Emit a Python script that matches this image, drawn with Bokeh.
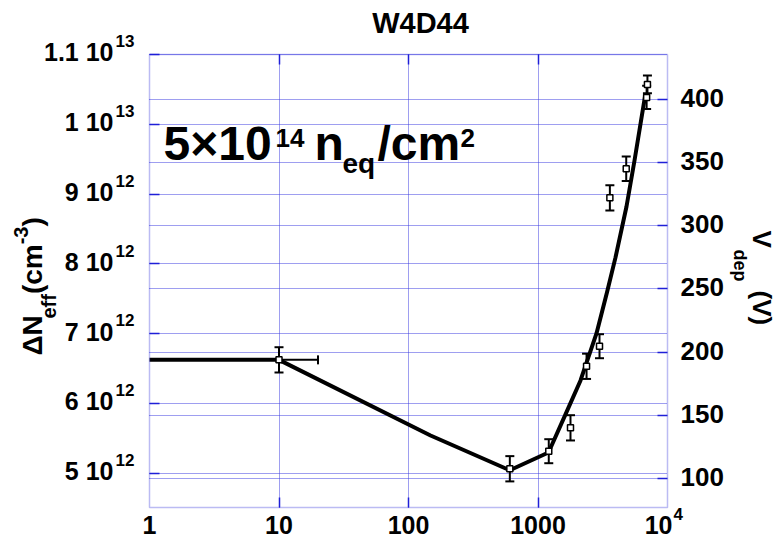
import math
from bokeh.plotting import figure
from bokeh.models import (Range1d, LinearAxis, LogAxis, Grid, FixedTicker, Label,
                          Whisker, TeeHead, ColumnDataSource, BoxAnnotation)
from bokeh.embed import file_html
from bokeh.resources import INLINE

# ---------------- data ----------------
anneal_t = [10, 606, 1211, 1782, 2371, 2985, 3589, 4800, 6900, 7000]          # annealing time
vdep = [193.9, 107.7, 121.6, 140.1, 188.8, 204.7, 322.2, 345.2, 401.6, 411.9]   # V_dep (V)
vdep_err = [10.0, 10.0, 9.5, 10.0, 10.0, 9.5, 10.0, 9.7, 9.2, 7.0]
t_err_upper = [20]          # horizontal error of first point (upper end)

fit_t = [1, 10, 148, 605, 1205, 1660, 2130, 2829, 3423, 3968, 4825, 5563, 6763]
fit_v = [193.9, 193.9, 134.0, 106.5, 120.6, 152.5, 177.6, 214.8, 248.0, 275.0, 315.3, 351.7, 404.8]

t_ticks = [1, 10, 100, 1000, 10000]
t_inner = [10, 100, 1000]
t_base = ["1", "10", "100", "1000", "10"]
t_exp = ["", "", "", "", "4"]

v_ticks = [100, 150, 200, 250, 300, 350, 400]
v_labels = ["100", "150", "200", "250", "300", "350", "400"]

neff_ticks = [5e12, 6e12, 7e12, 8e12, 9e12, 1e13, 1.1e13]
neff_base = ["5 10", "6 10", "7 10", "8 10", "9 10", "1 10", "1.1 10"]
neff_exp = ["12", "12", "12", "12", "12", "13", "13"]

# ---------------- layout constants ----------------
W, H = 777, 539
VMIN, VMAX = 77.04, 435.6          # V range of the plot box
NMIN, NMAX = 4.513e12, 1.1e13      # Neff range of the plot box
TMIN, TMAX = 1, 1e4
FL, FR, FT, FB = 149, 667, 54, 507   # plot box edges in pixels
BLUE = "#1f1fd8"
GRID = "#3c3ce0"
FONT = "Liberation Sans"
DEC = (FR - FL) / 4.0


def X(px):
    return 10 ** ((px - FL) / DEC)


def Y(py):
    return VMIN + (FB - py) * (VMAX - VMIN) / (FB - FT)


def NY(py):
    return NMIN + (FB - py) * (NMAX - NMIN) / (FB - FT)


def v_py(v):
    return FB - (v - VMIN) * (FB - FT) / (VMAX - VMIN)


def n_py(n):
    return FB - (n - NMIN) * (FB - FT) / (NMAX - NMIN)


def x_px(x):
    return FL + math.log10(x) * DEC


p = figure(width=W, height=H, x_axis_type="log",
           x_range=Range1d(X(0), X(W)), y_range=Range1d(Y(H), Y(0)),
           x_axis_location=None, y_axis_location=None, min_border=0,
           output_backend="svg", toolbar_location=None, tools="")
p.extra_y_ranges = {"neff": Range1d(NY(H), NY(0))}
p.xgrid.grid_line_color = None
p.ygrid.grid_line_color = None
p.outline_line_color = None
p.background_fill_color = "white"
p.border_fill_color = "white"

# ---------------- dotted grid, limited to the plot box ----------------
gstyle = dict(line_color=GRID, line_dash="1 1", line_width=1)
if "cross_bounds" in Grid.properties():
    for g in [Grid(dimension=0, ticker=FixedTicker(ticks=t_inner), cross_bounds=(VMIN, VMAX)),
              Grid(dimension=1, ticker=FixedTicker(ticks=v_ticks), cross_bounds=(TMIN, TMAX)),
              Grid(dimension=1, ticker=FixedTicker(ticks=neff_ticks), cross_bounds=(TMIN, TMAX),
                   y_range_name="neff")]:
        g.grid_line_color = GRID
        g.grid_line_dash = "1 1"
        g.grid_line_width = 1
        p.add_layout(g, "center")
else:
    p.segment(x0=t_inner, y0=[VMIN] * 3, x1=t_inner, y1=[VMAX] * 3, **gstyle)
    p.segment(x0=[TMIN] * 7, y0=v_ticks, x1=[TMAX] * 7, y1=v_ticks, **gstyle)
    p.segment(x0=[TMIN] * 7, y0=neff_ticks, x1=[TMAX] * 7, y1=neff_ticks,
              y_range_name="neff", **gstyle)

# plot box
p.add_layout(BoxAnnotation(left=TMIN, right=TMAX, bottom=VMIN, top=VMAX,
                           fill_alpha=0, line_color=BLUE, line_width=1.5))


# ---------------- axes (ticks pointing inward, drawn on the box) ----------------
def style_axis(ax, ticks):
    ax.major_tick_in = 10
    ax.major_tick_out = 0
    ax.minor_tick_in = 0
    ax.minor_tick_out = 0
    ax.axis_line_color = None
    ax.major_tick_line_color = BLUE
    ax.major_tick_line_width = 1.5
    ax.major_label_overrides = {t: "" for t in ticks}
    ax.major_label_text_color = None
    ax.major_label_standoff = 0
    return ax


p.add_layout(style_axis(LinearAxis(y_range_name="neff", ticker=FixedTicker(ticks=neff_ticks),
                                   fixed_location=TMIN, bounds=(NMIN, NMAX)), neff_ticks), "left")
p.add_layout(style_axis(LinearAxis(ticker=FixedTicker(ticks=v_ticks), fixed_location=TMAX,
                                   bounds=(VMIN, VMAX)), v_ticks), "right")
p.add_layout(style_axis(LogAxis(ticker=FixedTicker(ticks=t_inner), fixed_location=VMIN,
                                bounds=(TMIN, TMAX)), t_inner), "below")
p.add_layout(style_axis(LogAxis(ticker=FixedTicker(ticks=t_inner), fixed_location=VMAX,
                                bounds=(TMIN, TMAX)), t_inner), "above")

# ---------------- data marks ----------------
src = ColumnDataSource(dict(
    t=anneal_t, v=vdep,
    lo=[v - e for v, e in zip(vdep, vdep_err)],
    hi=[v + e for v, e in zip(vdep, vdep_err)]))
p.add_layout(Whisker(base="t", lower="lo", upper="hi", source=src, dimension="height",
                     line_color="black", line_width=2,
                     upper_head=TeeHead(size=9, line_color="black", line_width=2),
                     lower_head=TeeHead(size=9, line_color="black", line_width=2)))
hsrc = ColumnDataSource(dict(v=vdep[:1], t=anneal_t[:1], hi=t_err_upper))
p.add_layout(Whisker(base="v", lower="t", upper="hi", source=hsrc, dimension="width",
                     line_color="black", line_width=2, lower_head=None,
                     upper_head=TeeHead(size=9, line_color="black", line_width=2)))

p.line(fit_t, fit_v, line_color="black", line_width=4, line_join="round")
p.scatter("t", "v", source=src, marker="square", size=6, fill_color="white",
          line_color="black", line_width=1.5)


# ---------------- texts ----------------
# Labels anchor on the middle of the text box; shift so (px, py) is the baseline.
BASE_SHIFT = 0.3465


def txt(s, px, py, size, align="left", angle=0.0):
    d = BASE_SHIFT * size
    if angle == 0:
        ax_, ay_ = px, py - d
    elif angle > 0:
        ax_, ay_ = px - d, py
    else:
        ax_, ay_ = px + d, py
    p.add_layout(Label(x=X(ax_), y=Y(ay_), text=s, text_font=FONT, text_font_size=f"{size}px",
                       text_font_style="bold", text_align=align, text_baseline="alphabetic",
                       angle=angle, text_color="black"))


# title
txt("W4D44", 420, 33, 29, "center")

# left tick labels
for n, b, e in zip(neff_ticks, neff_base, neff_exp):
    txt(b, 113, n_py(n) + 6.5, 25, "right")
    txt(e, 115, n_py(n) - 7.5, 17, "left")

# right tick labels
for v, s in zip(v_ticks, v_labels):
    txt(s, 680, v_py(v) + 7.5, 26, "left")

# bottom tick labels
for t, b, e in zip(t_ticks, t_base, t_exp):
    if e:
        txt(b, x_px(t) + 5, 533, 25, "right")
        txt(e, x_px(t) + 6, 519, 17, "left")
    else:
        txt(b, x_px(t), 533, 25, "center")

# big fluence annotation
txt("5\u00d710", 163, 160, 48)
txt("14", 275, 147, 26)
txt("n", 314, 160, 48)
txt("eq", 342, 173, 28)
txt("/cm", 377, 160, 48)
txt("2", 460, 147, 26)

# left axis title (rotated, reading upward)
A = math.pi / 2
txt("\u0394N", 42, 355, 28, angle=A)
txt("eff", 55, 318, 20, angle=A)
txt("(cm", 42, 293.6, 28, angle=A)
txt("-3", 27, 243.8, 20, angle=A)
txt(")", 42, 226, 28, angle=A)

# right axis title (rotated, reading downward)
B = -math.pi / 2
txt("V", 752, 230, 26, angle=B)
txt("dep", 733, 249, 18, angle=B)
txt("(V)", 752, 290, 26, angle=B)

open("out.html", "w").write(file_html(p, INLINE))
